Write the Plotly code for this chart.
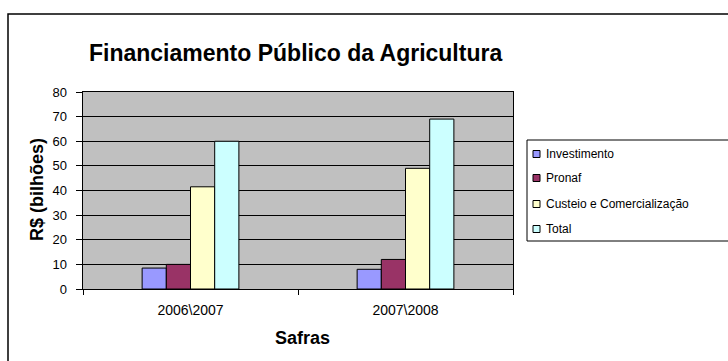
import plotly.graph_objects as go

categories = ["2006\\2007", "2007\\2008"]
series_names = ["Investimento", "Pronaf", "Custeio e Comercialização", "Total"]
investimento = [8.5, 8]
pronaf = [10, 12]
custeio = [41.5, 49]
total = [60, 69]
colors = ["#9999FF", "#993366", "#FFFFCC", "#CCFFFF"]

series_values = [investimento, pronaf, custeio, total]

W, H = 728, 361
L, R, T, B = 83, 215, 92, 72
pw, ph = W - L - R, H - T - B

def px(x):
    return (x - L) / pw

def py(y):
    return (H - B - y) / ph

font = "Liberation Sans, Arial, sans-serif"

fig = go.Figure()
for name, vals, col in zip(series_names, series_values, colors):
    fig.add_trace(go.Bar(
        x=categories, y=vals, name=name,
        marker=dict(color=col, line=dict(color="black", width=1)),
    ))

# legend drawn as box + swatches + text (matches the original's compact legend)
shapes = [
    dict(type="rect", xref="paper", yref="paper",
         x0=px(8), y0=py(375), x1=px(745), y1=py(14),
         line=dict(color="black", width=1.5), layer="below"),
    dict(type="rect", xref="paper", yref="paper",
         x0=px(527), y0=py(241), x1=px(745), y1=py(140),
         line=dict(color="black", width=1), fillcolor="white", layer="below"),
]
annotations = [
    dict(text="<b>Financiamento Público da Agricultura</b>", xref="paper", yref="paper",
         x=px(87), y=py(53), xanchor="left", yanchor="middle", showarrow=False,
         font=dict(size=23, family=font)),
    dict(text="<b>R$ (bilhões)</b>", xref="paper", yref="paper",
         x=px(37), y=py(190), xanchor="center", yanchor="middle", showarrow=False,
         textangle=-90, font=dict(size=18, family=font)),
    dict(text="<b>Safras</b>", xref="paper", yref="paper",
         x=px(302), y=py(338), xanchor="center", yanchor="middle", showarrow=False,
         font=dict(size=18, family=font)),
]
item_y = [154, 178, 204, 229]
for name, col, yy in zip(series_names, colors, item_y):
    shapes.append(dict(type="rect", xref="paper", yref="paper",
                       x0=px(533), x1=px(540), y0=py(yy + 3.5), y1=py(yy - 3.5),
                       fillcolor=col, line=dict(color="black", width=1)))
    annotations.append(dict(text=name, xref="paper", yref="paper",
                            x=px(544), y=py(yy), xanchor="left", yanchor="middle",
                            showarrow=False, font=dict(size=12, family=font)))

fig.update_layout(
    width=W, height=H,
    margin=dict(l=L, r=R, t=T, b=B),
    paper_bgcolor="white",
    plot_bgcolor="#C0C0C0",
    barmode="group",
    bargap=0.55,
    bargroupgap=0,
    font=dict(family=font, size=12, color="black"),
    showlegend=False,
    xaxis=dict(
        showline=True, linecolor="black", linewidth=1, mirror=True,
        ticks="outside", ticklen=5, tickcolor="black", tickson="boundaries",
        tickfont=dict(size=14), showgrid=False, ticklabelstandoff=8,
    ),
    yaxis=dict(
        range=[0, 80], dtick=10, showline=True, linecolor="black", linewidth=1,
        mirror=True, ticks="outside", ticklen=6, tickcolor="black",
        showgrid=True, gridcolor="black", gridwidth=1, zeroline=False,
        tickfont=dict(size=13), ticksuffix="\u2002",
    ),
    annotations=annotations,
    shapes=shapes,
)

fig.write_html("out.html")
